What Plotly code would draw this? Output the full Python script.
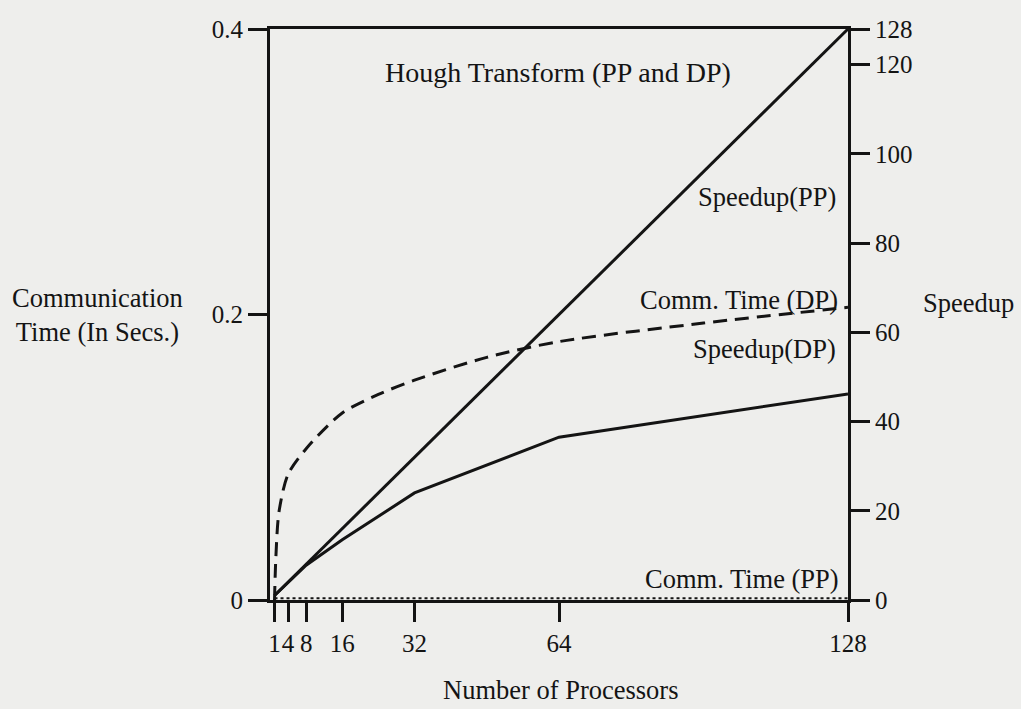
import plotly.graph_objects as go

processors = [1, 4, 8, 16, 32, 64, 128]
speedup_pp = [1, 4, 8, 16, 32, 64, 128]
speedup_dp = [1, 4, 7.8, 13.5, 24, 36.5, 46.2]

comm_dp_x = [1, 1.3, 2, 4, 8, 16, 24, 32, 48, 64, 96, 128]
comm_dp_y = [0.0, 0.03, 0.062, 0.088, 0.106, 0.131, 0.144, 0.154, 0.170, 0.181, 0.194, 0.205]

comm_pp_x = [1, 128]
comm_pp_y = [0.0012, 0.0012]

x_ticks = [1, 4, 8, 16, 32, 64, 128]
y_ticks = [0, 0.2, 0.4]
y_ticklabels = ["0", "0.2", "0.4"]
y2_ticks = [0, 20, 40, 60, 80, 100, 120, 128]

ink = "#141414"
bg = "#eeeeec"
font = "Liberation Serif"

L, R, T, B = 270, 848, 29, 600

fig = go.Figure()
fig.add_trace(go.Scatter(x=comm_dp_x, y=comm_dp_y, mode="lines", line=dict(color=ink, width=3, dash="14px,8px", shape="spline", smoothing=0.8), yaxis="y", showlegend=False))
fig.add_trace(go.Scatter(x=comm_pp_x, y=comm_pp_y, mode="lines", line=dict(color=ink, width=2, dash="dot"), yaxis="y", showlegend=False))
fig.add_trace(go.Scatter(x=processors, y=speedup_pp, mode="lines", line=dict(color=ink, width=3), yaxis="y2", showlegend=False))
fig.add_trace(go.Scatter(x=processors, y=speedup_dp, mode="lines", line=dict(color=ink, width=3), yaxis="y2", showlegend=False))

axis_common = dict(showgrid=False, zeroline=False, showline=True, linecolor=ink, linewidth=3,
                   ticks="outside", ticklen=19, tickwidth=3, tickcolor=ink,
                   tickfont=dict(family=font, size=25, color=ink))

fig.update_layout(
    width=1021, height=709,
    margin=dict(l=L, r=1021 - R, t=T, b=709 - B),
    paper_bgcolor=bg, plot_bgcolor=bg,
    font=dict(family=font, color=ink),
    xaxis=dict(range=[0, 128], tickvals=x_ticks, ticktext=[str(v) for v in x_ticks], tickangle=0,
               mirror=True, **axis_common),
    yaxis=dict(range=[0, 0.4], tickvals=y_ticks, ticktext=y_ticklabels, **axis_common),
    yaxis2=dict(range=[0, 128], tickvals=y2_ticks, ticktext=[str(v) for v in y2_ticks],
                overlaying="y", side="right", **axis_common),
)

ann = [
    dict(text="Hough Transform (PP and DP)", x=558, y=72, xanchor="center", size=28),
    dict(text="Speedup(PP)", x=838, y=197, xanchor="right", size=26.5),
    dict(text="Comm. Time (DP)", x=840, y=300, xanchor="right", size=26.5),
    dict(text="Speedup(DP)", x=838, y=349, xanchor="right", size=26.5),
    dict(text="Comm. Time (PP)", x=841, y=579, xanchor="right", size=26.5),
    dict(text="Speedup", x=968, y=303, xanchor="center", size=26.5),
    dict(text="Communication<br>Time (In Secs.)", x=97, y=315, xanchor="center", size=26.5),
    dict(text="Number of Processors", x=561, y=690, xanchor="center", size=26.5),
]
for a in ann:
    fig.add_annotation(text=a["text"], x=(a["x"] - L) / (R - L), y=(B - a["y"]) / (B - T),
                       xref="paper", yref="paper",
                       xanchor=a["xanchor"], yanchor="middle", showarrow=False,
                       font=dict(family=font, size=a["size"], color=ink))

fig.write_html("out.html")
